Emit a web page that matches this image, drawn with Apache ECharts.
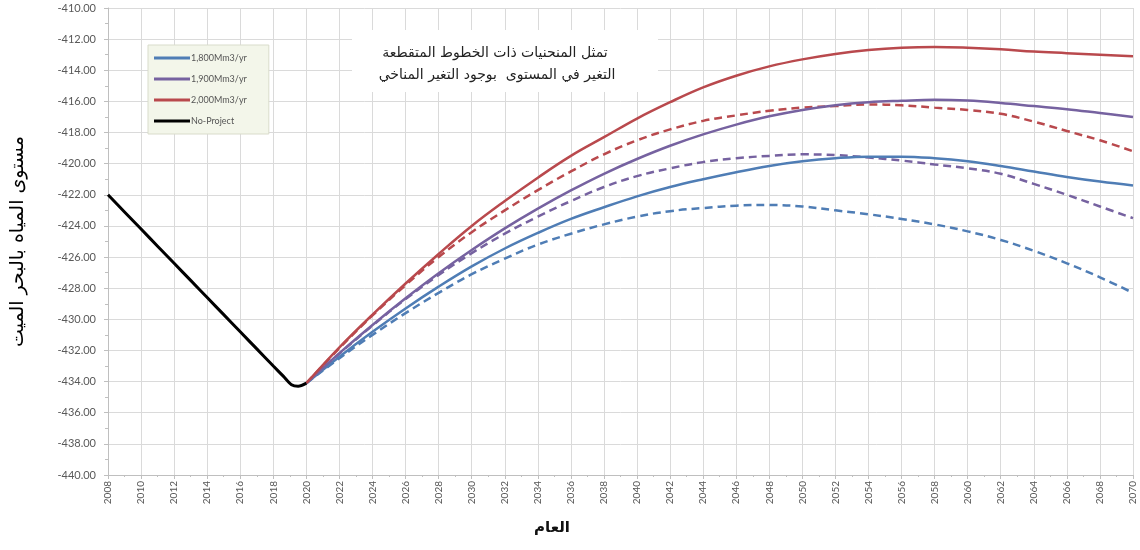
<!DOCTYPE html>
<html>
<head>
<meta charset="utf-8">
<script src="https://cdn.jsdelivr.net/npm/echarts@6/dist/echarts.min.js"></script>
<style>
html,body{margin:0;padding:0;background:#fff;}
#chart{width:1140px;height:550px;}
</style>
</head>
<body>
<div id="chart"></div>
<script>
// ---- data ----
const years = [2020,2022,2024,2026,2028,2030,2032,2034,2036,2038,2040,2042,2044,2046,2048,2050,2052,2054,2056,2058,2060,2062,2064,2066,2068,2070];

const noProjectYears = [2008,2009,2010,2011,2012,2013,2014,2015,2016,2017,2018,2018.6,2019.1,2019.5,2020];
const noProject = [-422.0,-423.1,-424.2,-425.3,-426.4,-427.5,-428.6,-429.7,-430.8,-431.9,-433.0,-433.65,-434.2,-434.3,-434.1];

const s1800 = [-434.1,-432.4,-430.8,-429.3,-427.9,-426.6,-425.45,-424.45,-423.55,-422.8,-422.1,-421.5,-421.0,-420.55,-420.15,-419.85,-419.65,-419.55,-419.55,-419.65,-419.85,-420.15,-420.5,-420.85,-421.15,-421.4];
const s1900 = [-434.1,-432.17,-430.36,-428.65,-427.04,-425.55,-424.16,-422.89,-421.72,-420.65,-419.7,-418.85,-418.12,-417.49,-416.96,-416.55,-416.24,-416.05,-415.96,-415.9,-415.95,-416.1,-416.3,-416.5,-416.75,-417.0];
const s2000 = [-434.1,-431.8,-429.7,-427.7,-425.8,-424.0,-422.4,-420.9,-419.5,-418.3,-417.1,-416.05,-415.1,-414.35,-413.75,-413.3,-412.95,-412.7,-412.55,-412.5,-412.55,-412.65,-412.8,-412.9,-413.0,-413.1];

const c1800 = [-434.1,-432.5,-431.0,-429.6,-428.3,-427.1,-426.1,-425.2,-424.5,-423.9,-423.4,-423.05,-422.85,-422.7,-422.65,-422.75,-423.0,-423.25,-423.55,-423.9,-424.35,-424.9,-425.6,-426.4,-427.3,-428.3];
const c1900 = [-434.1,-432.2,-430.4,-428.7,-427.15,-425.75,-424.5,-423.4,-422.4,-421.5,-420.8,-420.3,-419.9,-419.65,-419.5,-419.4,-419.45,-419.6,-419.8,-420.05,-420.3,-420.65,-421.3,-422.0,-422.75,-423.5];
const c2000 = [-434.1,-431.85,-429.75,-427.8,-426.0,-424.4,-423.0,-421.7,-420.5,-419.4,-418.5,-417.8,-417.25,-416.9,-416.6,-416.4,-416.3,-416.2,-416.25,-416.4,-416.55,-416.8,-417.3,-417.9,-418.5,-419.2];

const seriesNames = ['1,800Mm3/yr','1,900Mm3/yr','2,000Mm3/yr','No-Project'];
const noteLines = ['تمثل المنحنيات ذات الخطوط المتقطعة','التغير في المستوى  بوجود التغير المناخي'];
const yTitle = 'مستوى المياه بالبحر الميت';
const xTitle = 'العام';

// ---- build ----
const pair = (xs, ys) => xs.map((x, i) => [x, ys[i]]);
const colors = {b:'#4f7db5', p:'#7662a0', r:'#b9494d'};

function solid(name, data, color){
  return {name, type:'line', data:pair(years,data), showSymbol:false, symbol:'none', smooth:0.4,
    lineStyle:{color, width:2.5}, itemStyle:{color}, z:3};
}
function dashed(name, data, color){
  return {name, type:'line', data:pair(years,data), showSymbol:false, symbol:'none', smooth:0.4,
    lineStyle:{color, width:2.5, type:[8,5]}, itemStyle:{color}, z:2};
}

const chart = echarts.init(document.getElementById('chart'));
chart.setOption({
  animation:false,
  backgroundColor:'#fff',
  grid:{left:108, right:7, top:8, bottom:75},
  legend:{
    data:seriesNames, orient:'vertical', left:148, top:45,
    icon:'rect', itemWidth:36, itemHeight:3, itemGap:9,
    backgroundColor:'#f3f6ea', borderColor:'#d9dccb', borderWidth:1,
    padding:[7,22,7,6],
    textStyle:{fontSize:9, color:'#555', fontFamily:'Lato, sans-serif', padding:[0,0,0,-4], lineHeight:12, height:12}
  },
  xAxis:{
    type:'value', min:2008, max:2070, interval:2,
    axisLine:{lineStyle:{color:'#bfbfbf'}},
    axisTick:{show:true, length:4, lineStyle:{color:'#bfbfbf'}},
    minorTick:{show:true, splitNumber:2, length:2, lineStyle:{color:'#bfbfbf'}},
    axisLabel:{rotate:90, fontSize:10, color:'#555', margin:6, fontFamily:'Lato, sans-serif', formatter:v=>String(v)},
    splitLine:{show:true, lineStyle:{color:'#dadada', width:1}}
  },
  yAxis:{
    type:'value', min:-440, max:-410, interval:2,
    name:yTitle, nameLocation:'middle', nameGap:80, nameRotate:90,
    nameTextStyle:{fontSize:19, color:'#000', fontFamily:'DejaVu Sans'},
    axisLine:{show:true, lineStyle:{color:'#bfbfbf'}},
    axisTick:{show:true, length:4, lineStyle:{color:'#bfbfbf'}},
    minorTick:{show:true, splitNumber:2, length:3, lineStyle:{color:'#bfbfbf'}},
    axisLabel:{fontSize:11, color:'#595959', margin:12, fontFamily:'Lato, sans-serif', formatter:v=>v.toFixed(2)},
    splitLine:{show:true, lineStyle:{color:'#dadada', width:1}}
  },
  graphic:[
    {type:'rect', left:352, top:30, shape:{width:306, height:62}, style:{fill:'#fff'}, z:10},
    {type:'text', x:495, y:53, style:{text:noteLines[0], fill:'#222', fontSize:14, fontFamily:'DejaVu Sans', align:'center', verticalAlign:'middle'}, z:11},
    {type:'text', x:497, y:75, style:{text:noteLines[1], fill:'#222', fontSize:14, fontFamily:'DejaVu Sans', align:'center', verticalAlign:'middle'}, z:11},
    {type:'text', x:552, y:528, style:{text:xTitle, fill:'#111', fontSize:15, fontWeight:'bold', fontFamily:'DejaVu Sans', align:'center', verticalAlign:'middle'}, z:11}
  ],
  series:[
    solid(seriesNames[0], s1800, colors.b),
    solid(seriesNames[1], s1900, colors.p),
    solid(seriesNames[2], s2000, colors.r),
    {name:seriesNames[3], type:'line', data:pair(noProjectYears,noProject), showSymbol:false, symbol:'none', smooth:0.3,
      lineStyle:{color:'#000', width:3}, itemStyle:{color:'#000'}, z:4},
    dashed('cc1800', c1800, colors.b),
    dashed('cc1900', c1900, colors.p),
    dashed('cc2000', c2000, colors.r)
  ]
});
</script>
</body>
</html>
